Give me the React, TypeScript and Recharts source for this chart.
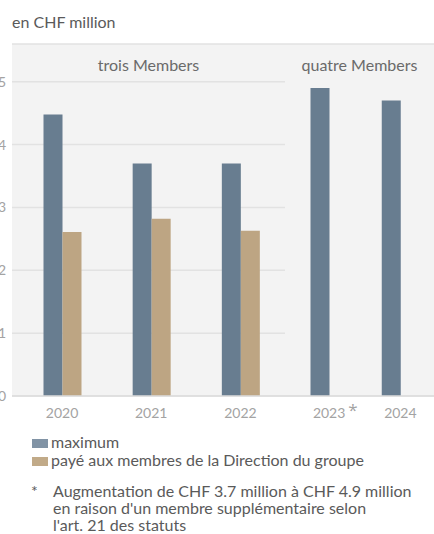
import React from "react";
import { BarChart, Bar, XAxis, YAxis, CartesianGrid } from "recharts";

const groupLabels = ["trois Members", "quatre Members"];
const categoriesA = ["2020", "2021", "2022"];
const maxA = [4.48, 3.7, 3.7];
const paidA = [2.61, 2.82, 2.63];
const categoriesB = ["2023", "2024"];
const maxB = [4.9, 4.7];
const paidB: (number | null)[] = [null, null];
const noteMarks = ["*", ""];
const yTicks = [0, 1, 2, 3, 4, 5];
const seriesNames = ["maximum", "payé aux membres de la Direction du groupe"];
const unitLabel = "en CHF million";
const footnote = [
  "Augmentation de CHF 3.7 million à CHF 4.9 million",
  "en raison d'un membre supplémentaire selon",
  "l'art. 21 des statuts",
];

const C_MAX = "#687d90";
const C_PAID = "#bda583";
const L_MAX = "#8193a5";
const L_PAID = "#c1aa88";
const BG = "#f3f3f3";
const GRID = "#e2e2e2";
const TICK = "#a3a3a3";
const TEXT = "#5a5a5a";
const FONT = "Lato, 'Open Sans', sans-serif";
const FONT2 = "'Open Sans', Lato, sans-serif";

const dataA = categoriesA.map((c, i) => ({ cat: c, max: maxA[i], paid: paidA[i] }));
const dataB = categoriesB.map((c, i) => ({ cat: c, max: maxB[i], paid: paidB[i], note: noteMarks[i] }));

const H = 434;
const DOMAIN: [number, number] = [0, 5.6];

const TickB = (props: any) => {
  const { x, y, payload, index } = props;
  const mark = noteMarks[index] || "";
  return (
    <g>
      <text x={x} y={y} dy="0.71em" textAnchor="middle" fill={TICK} fontSize={14} fontFamily={FONT}>
        {payload.value}
      </text>
      {mark ? (
        <text x={x + 19} y={y - 4} dy="0.71em" textAnchor="start" fill={TICK} fontSize={17} fontFamily={FONT2}>
          {mark}
        </text>
      ) : null}
    </g>
  );
};

export default function App() {
  return (
    <div style={{ position: "absolute", left: 0, top: 0, width: 434, height: 534, overflow: "hidden", background: "#fff", fontFamily: FONT }}>
      <div style={{ position: "absolute", left: 12, top: 11.5, fontSize: 16, color: TEXT, lineHeight: "20px", whiteSpace: "nowrap" }}>{unitLabel}</div>

      <div style={{ position: "absolute", left: 0, top: 0 }}>
        <BarChart width={285} height={H} data={dataA} margin={{ top: 44, right: 0, bottom: 0, left: 0 }} barGap={0} barSize={19}>
          <CartesianGrid vertical={false} fill={BG} stroke={GRID} strokeWidth={1.5} />
          <YAxis
            width={12}
            domain={DOMAIN}
            ticks={yTicks}
            axisLine={false}
            tickLine={false}
            tickSize={0}
            tickMargin={6}
            tick={{ fill: TICK, fontSize: 14, fontFamily: FONT }}
          />
          <XAxis
            dataKey="cat"
            height={38}
            padding={{ left: 5.5, right: 0 }}
            axisLine={{ stroke: "#dcdcdc", strokeWidth: 1.5 }}
            tickLine={false}
            tickSize={0}
            tickMargin={12}
            tick={{ fill: TICK, fontSize: 14, fontFamily: FONT }}
          />
          <Bar dataKey="max" fill={C_MAX} isAnimationActive={false} />
          <Bar dataKey="paid" fill={C_PAID} isAnimationActive={false} />
        </BarChart>
      </div>

      <div style={{ position: "absolute", left: 285, top: 0 }}>
        <BarChart width={151} height={H} data={dataB} margin={{ top: 44, right: 0, bottom: 0, left: 0 }} barGap={0} barSize={19}>
          <CartesianGrid vertical={false} fill={BG} stroke={GRID} strokeWidth={1.5} />
          <YAxis
            width={0}
            domain={DOMAIN}
            ticks={yTicks}
            axisLine={{ stroke: "#dadada", strokeWidth: 1.5 }}
            tickLine={false}
            tick={false}
          />
          <XAxis
            dataKey="cat"
            height={38}
            padding={{ left: 8.5, right: 0 }}
            axisLine={{ stroke: "#dcdcdc", strokeWidth: 1.5 }}
            tickLine={false}
            tickSize={0}
            tickMargin={12}
            tick={<TickB />}
          />
          <Bar dataKey="max" fill={C_MAX} isAnimationActive={false} />
          <Bar dataKey="paid" fill={C_PAID} isAnimationActive={false} />
        </BarChart>
      </div>

      <div style={{ position: "absolute", left: 12, width: 273, top: 55, textAlign: "center", fontSize: 16, color: "#6a6a6a", lineHeight: "20px", whiteSpace: "nowrap" }}>
        {groupLabels[0]}
      </div>
      <div style={{ position: "absolute", left: 285, width: 149, top: 55, textAlign: "center", fontSize: 16, color: "#6a6a6a", lineHeight: "20px", whiteSpace: "nowrap" }}>
        {groupLabels[1]}
      </div>

      {seriesNames.map((name, i) => (
        <React.Fragment key={name}>
          <div style={{ position: "absolute", left: 32, top: 438.5 + i * 18.4, width: 16, height: 9.5, background: i === 0 ? L_MAX : L_PAID }} />
          <div style={{ position: "absolute", left: 51, top: 432.5 + i * 18.4, fontSize: 16, lineHeight: "18px", color: TEXT, whiteSpace: "nowrap" }}>
            {name}
          </div>
        </React.Fragment>
      ))}

      <div style={{ position: "absolute", left: 31, top: 482, fontSize: 16, color: TEXT, lineHeight: "17px" }}>*</div>
      <div style={{ position: "absolute", left: 53, top: 482, fontSize: 16, color: TEXT, lineHeight: "17px", whiteSpace: "nowrap" }}>
        {footnote.map((l) => (
          <div key={l}>{l}</div>
        ))}
      </div>
    </div>
  );
}
